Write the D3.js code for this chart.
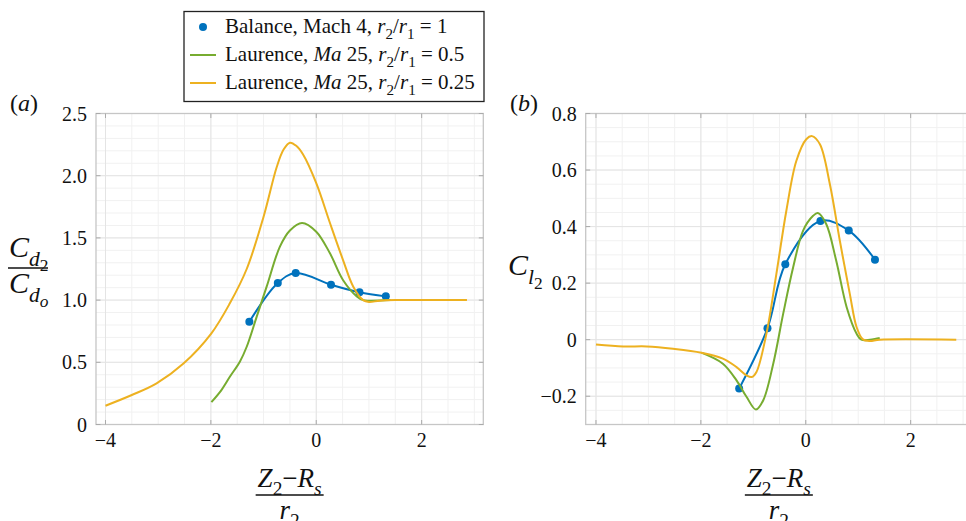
<!DOCTYPE html>
<html>
<head>
<meta charset="utf-8">
<script src="https://cdn.jsdelivr.net/npm/d3@7.9.0/dist/d3.min.js"></script>
<style>
  body { margin: 0; background: #fff; }
  svg { display: block; }
  svg text { font-family: "Liberation Serif", "Times New Roman", serif; }
</style>
</head>
<body>
<svg width="966" height="521"></svg>
<script>
// ---- data ----
const balanceX = [-1.27, -0.73, -0.39, 0.28, 0.82, 1.32];
const balanceCd = [0.826, 1.137, 1.218, 1.124, 1.063, 1.03];
const balanceCl = [-0.173, 0.04, 0.267, 0.42, 0.386, 0.283];

// Laurence r2/r1 = 0.25 (orange)
const quarterCdX = [-4.0, -3.5, -3.03, -2.52, -1.99, -1.64, -1.32, -1.0, -0.75, -0.62, -0.5, -0.38, -0.25, 0.0, 0.26, 0.51, 0.7, 0.89, 1.0, 1.2, 1.5, 2.86];
const quarterCdY = [0.151, 0.237, 0.331, 0.49, 0.733, 0.974, 1.25, 1.67, 2.07, 2.21, 2.265, 2.24, 2.17, 1.94, 1.62, 1.32, 1.11, 1.0, 0.985, 0.995, 1.0, 1.0];
const quarterClX = [-4.0, -3.48, -3.03, -2.53, -1.99, -1.58, -1.32, -1.13, -1.03, -0.94, -0.75, -0.56, -0.37, -0.18, 0.01, 0.12, 0.27, 0.46, 0.65, 0.84, 0.97, 1.09, 1.22, 1.41, 2.87];
const quarterClY = [-0.017, -0.024, -0.024, -0.032, -0.046, -0.067, -0.097, -0.126, -0.132, -0.114, 0.021, 0.233, 0.456, 0.632, 0.709, 0.72, 0.691, 0.55, 0.35, 0.162, 0.044, 0.001, -0.005, 0.0, 0.0];

// Laurence r2/r1 = 0.5 (green)
const halfCdX = [-1.99, -1.8, -1.64, -1.45, -1.32, -1.13, -0.94, -0.69, -0.5, -0.27, 0.0, 0.26, 0.51, 0.77, 0.89, 1.0, 1.41];
const halfCdY = [0.18, 0.277, 0.384, 0.505, 0.625, 0.867, 1.11, 1.43, 1.56, 1.62, 1.55, 1.376, 1.16, 1.03, 1.0, 0.995, 1.0];
const halfClX = [-1.99, -1.58, -1.32, -1.13, -0.95, -0.81, -0.62, -0.43, -0.24, -0.05, 0.14, 0.23, 0.39, 0.58, 0.78, 0.97, 1.06, 1.41];
const halfClY = [-0.046, -0.085, -0.144, -0.202, -0.247, -0.214, -0.085, 0.092, 0.256, 0.386, 0.438, 0.448, 0.409, 0.28, 0.115, 0.021, 0.0, 0.006];

const xTicks = [-4, -2, 0, 2];
const cdTicks = [0, 0.5, 1.0, 1.5, 2.0, 2.5];
const clTicks = [-0.2, 0, 0.2, 0.4, 0.6, 0.8];

const blue = '#0072bd', green = '#77ac30', orange = '#edb120';
const SERIF = '"Liberation Serif", "Times New Roman", serif';

const svg = d3.select('svg');
const fmt = d => d === 0 ? '0' : d.toFixed(1).replace('-', '\u2212');

// draws text made of segments {t, i: italic, s: sub level}
function rich(g, x, y, size, segs, anchor) {
    const text = g.append('text').attr('x', x).attr('y', y)
        .attr('font-family', SERIF)
        .attr('font-size', size).attr('fill', '#111')
        .attr('text-anchor', anchor || 'start');
    const shift = [0, 0.3 * size, 0.48 * size];
    const scale = [1, 0.72, 0.58];
    let level = 0;
    segs.forEach(s => {
        const lv = s.s || 0;
        text.append('tspan')
            .attr('dy', shift[lv] - shift[level])
            .attr('font-size', size * scale[lv])
            .attr('font-style', s.i ? 'italic' : 'normal')
            .text(s.t);
        level = lv;
    });
    return text;
}

function panel(opt) {
    const x = d3.scaleLinear().domain(opt.xDomain).range([opt.left, opt.right]);
    const y = d3.scaleLinear().domain(opt.yDomain).range([424.5, 113.5]);
    const g = svg.append('g');

    // grid
    const xMinor = d3.range(-4, 3.01, 0.5);
    const yMinor = d3.range(opt.yDomain[0], opt.yDomain[1] + 1e-6, opt.yStep);
    g.selectAll('.xm').data(xMinor).join('line')
        .attr('x1', d => x(d)).attr('x2', d => x(d)).attr('y1', y.range()[0]).attr('y2', y.range()[1])
        .attr('stroke', '#f1f1f1').attr('stroke-width', 1);
    g.selectAll('.ym').data(yMinor).join('line')
        .attr('x1', opt.left).attr('x2', opt.right).attr('y1', d => y(d)).attr('y2', d => y(d))
        .attr('stroke', '#f1f1f1').attr('stroke-width', 1);
    g.selectAll('.xg').data(xTicks).join('line')
        .attr('x1', d => x(d)).attr('x2', d => x(d)).attr('y1', y.range()[0]).attr('y2', y.range()[1])
        .attr('stroke', '#e4e4e4').attr('stroke-width', 1);
    g.selectAll('.yg').data(opt.yTicks).join('line')
        .attr('x1', opt.left).attr('x2', opt.right).attr('y1', d => y(d)).attr('y2', d => y(d))
        .attr('stroke', '#e4e4e4').attr('stroke-width', 1);

    // box + inward ticks
    g.append('rect').attr('x', opt.left).attr('y', 113.5)
        .attr('width', opt.right - opt.left).attr('height', 311)
        .attr('fill', 'none').attr('stroke', '#c6c6c6').attr('stroke-width', 1.3);
    xTicks.forEach(t => {
        g.append('line').attr('x1', x(t)).attr('x2', x(t)).attr('y1', 424.5).attr('y2', 420).attr('stroke', '#aaa');
        g.append('line').attr('x1', x(t)).attr('x2', x(t)).attr('y1', 113.5).attr('y2', 118).attr('stroke', '#aaa');
    });
    opt.yTicks.forEach(t => {
        g.append('line').attr('x1', opt.left).attr('x2', opt.left + 4.5).attr('y1', y(t)).attr('y2', y(t)).attr('stroke', '#aaa');
        g.append('line').attr('x1', opt.right).attr('x2', opt.right - 4.5).attr('y1', y(t)).attr('y2', y(t)).attr('stroke', '#aaa');
    });

    // tick labels
    g.selectAll('.xl').data(xTicks).join('text')
        .attr('x', d => x(d)).attr('y', 447).attr('text-anchor', 'middle')
        .attr('font-family', SERIF).attr('font-size', 20).attr('fill', '#111')
        .text(d => String(d).replace('-', '\u2212'));
    g.selectAll('.yl').data(opt.yTicks).join('text')
        .attr('x', opt.left - 9).attr('y', d => y(d) + 7).attr('text-anchor', 'end')
        .attr('font-family', SERIF).attr('font-size', 20).attr('fill', '#111')
        .text(fmt);

    // curves
    const line = d3.line().x(d => x(d[0])).y(d => y(d[1]));
    const series = [
        { xs: balanceX, ys: opt.balance, color: blue },
        { xs: opt.halfX, ys: opt.halfY, color: green },
        { xs: opt.quarterX, ys: opt.quarterY, color: orange },
    ];
    series.forEach(s => {
        const pts = d3.zip(s.xs, s.ys);
        g.append('path').attr('d', line.curve(d3.curveCatmullRom)(pts))
            .attr('fill', 'none').attr('stroke', s.color).attr('stroke-width', 2);
        if (s.color === blue) {
            g.selectAll('.dot').data(pts).join('circle')
                .attr('cx', d => x(d[0])).attr('cy', d => y(d[1])).attr('r', 4)
                .attr('fill', blue);
        }
    });

    // panel tag
    rich(g, opt.tagX, 111, 24, [{ t: '(' }, { t: opt.tag, i: true }, { t: ')' }]);

    // x label (fraction)
    const cx = (opt.left + opt.right) / 2;
    rich(g, cx, 487, 27, [{ t: 'Z', i: true }, { t: '2', s: 1 }, { t: '\u2212' }, { t: 'R', i: true }, { t: 's', i: true, s: 1 }], 'middle');
    g.append('line').attr('x1', cx - 34).attr('x2', cx + 34).attr('y1', 495).attr('y2', 495)
        .attr('stroke', '#111').attr('stroke-width', 1.5);
    rich(g, cx, 519, 27, [{ t: 'r', i: true }, { t: '2', s: 1 }], 'middle');
    return g;
}

const ga = panel({
    tag: 'a', tagX: 10, left: 96, right: 483.3, xDomain: [-4.18, 3.17],
    yDomain: [0, 2.5], yTicks: cdTicks, yStep: 0.1,
    balance: balanceCd, halfX: halfCdX, halfY: halfCdY, quarterX: quarterCdX, quarterY: quarterCdY
});
const gb = panel({
    tag: 'b', tagX: 510, left: 585.7, right: 972, xDomain: [-4.196, 3.17],
    yDomain: [-0.3, 0.8], yTicks: clTicks, yStep: 0.05,
    balance: balanceCl, halfX: halfClX, halfY: halfClY, quarterX: quarterClX, quarterY: quarterClY
});

// y labels
rich(ga, 9, 257, 30, [{ t: 'C', i: true }, { t: 'd', i: true, s: 1 }, { t: '2', s: 2 }]);
ga.append('line').attr('x1', 8).attr('x2', 48).attr('y1', 268).attr('y2', 268)
    .attr('stroke', '#111').attr('stroke-width', 1.5);
rich(ga, 9, 293, 30, [{ t: 'C', i: true }, { t: 'd', i: true, s: 1 }, { t: 'o', i: true, s: 2 }]);
rich(gb, 508, 275, 30, [{ t: 'C', i: true }, { t: 'l', i: true, s: 1 }, { t: '2', s: 2 }]);

// legend
const lg = svg.append('g');
lg.append('rect').attr('x', 184).attr('y', 11.5).attr('width', 300).attr('height', 90)
    .attr('fill', '#fff').attr('stroke', '#222').attr('stroke-width', 1.3);
const legendRows = [
    [{ t: 'Balance, Mach 4, ' }, { t: 'r', i: true }, { t: '2', s: 1 }, { t: '/' }, { t: 'r', i: true }, { t: '1', s: 1 }, { t: ' = 1' }],
    [{ t: 'Laurence, ' }, { t: 'Ma', i: true }, { t: ' 25, ' }, { t: 'r', i: true }, { t: '2', s: 1 }, { t: '/' }, { t: 'r', i: true }, { t: '1', s: 1 }, { t: ' = 0.5' }],
    [{ t: 'Laurence, ' }, { t: 'Ma', i: true }, { t: ' 25, ' }, { t: 'r', i: true }, { t: '2', s: 1 }, { t: '/' }, { t: 'r', i: true }, { t: '1', s: 1 }, { t: ' = 0.25' }],
];
const legendColors = [blue, green, orange];
legendRows.forEach((segs, i) => {
    const yc = 27 + i * 28;
    if (i === 0) {
        lg.append('circle').attr('cx', 203).attr('cy', yc).attr('r', 4).attr('fill', blue);
    } else {
        lg.append('line').attr('x1', 190).attr('x2', 216).attr('y1', yc).attr('y2', yc)
            .attr('stroke', legendColors[i]).attr('stroke-width', 2);
    }
    rich(lg, 225, yc + 6, 21, segs);
});
</script>
</body>
</html>
